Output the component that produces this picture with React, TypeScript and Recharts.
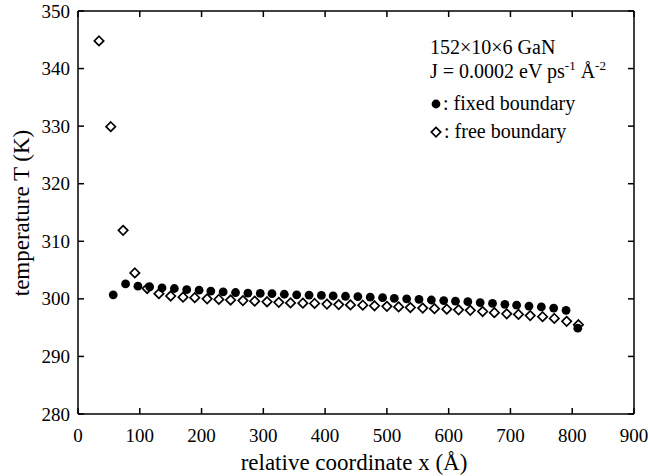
import React from 'react';
import { ScatterChart, Scatter, XAxis, YAxis } from 'recharts';

const xTicks = [0, 100, 200, 300, 400, 500, 600, 700, 800, 900];
const yTicks = [280, 290, 300, 310, 320, 330, 340, 350];

const fixedX = [57, 77, 97, 116, 136, 156, 176, 196, 215, 235, 255, 275, 295, 314, 334, 354, 374, 394, 413, 433, 453, 473, 493, 512, 532, 552, 572, 592, 611, 631, 651, 671, 691, 710, 730, 750, 770, 790, 809];
const fixedY = [300.7, 302.6, 302.2, 302.1, 301.9, 301.8, 301.6, 301.5, 301.35, 301.2, 301.1, 301.0, 300.95, 300.9, 300.8, 300.7, 300.65, 300.6, 300.5, 300.45, 300.4, 300.3, 300.2, 300.1, 300.0, 299.9, 299.8, 299.7, 299.6, 299.5, 299.35, 299.2, 299.05, 298.9, 298.75, 298.6, 298.4, 298.0, 294.9];

const freeX = [34, 53, 73, 92, 112, 131, 150, 170, 189, 209, 228, 247, 267, 286, 306, 325, 344, 364, 383, 403, 422, 441, 461, 480, 500, 519, 538, 558, 577, 597, 616, 635, 655, 674, 694, 713, 732, 752, 771, 791, 810];
const freeY = [344.8, 329.9, 311.9, 304.5, 301.8, 300.9, 300.5, 300.3, 300.2, 300.0, 299.9, 299.8, 299.7, 299.6, 299.5, 299.4, 299.3, 299.25, 299.2, 299.1, 299.0, 298.95, 298.9, 298.8, 298.7, 298.6, 298.5, 298.4, 298.3, 298.2, 298.1, 298.0, 297.8, 297.6, 297.4, 297.3, 297.1, 296.9, 296.6, 296.1, 295.5];

const fixedData = fixedX.map((x, i) => ({ x, y: fixedY[i] }));
const freeData = freeX.map((x, i) => ({ x, y: freeY[i] }));

const FONT = '"Liberation Serif", "DejaVu Serif", serif';
const TL = 6;

const DotShape = (p: any) => <circle cx={p.cx} cy={p.cy} r={4.4} fill="#000" />;
const DiamondShape = (p: any) => {
  const s = 4.7;
  const { cx, cy } = p;
  return (
    <path
      d={`M${cx},${cy - s} L${cx + s},${cy} L${cx},${cy + s} L${cx - s},${cy} Z`}
      fill="#fff"
      stroke="#000"
      strokeWidth={1.7}
    />
  );
};

const BottomTick = (p: any) => (
  <g>
    <line x1={p.x} y1={p.y} x2={p.x} y2={p.y - TL} stroke="#000" strokeWidth={1.5} />
    <text x={p.x} y={p.y + 28} textAnchor="middle" fontSize={19} fontFamily={FONT} fill="#000">
      {p.payload.value}
    </text>
  </g>
);
const TopTick = (p: any) => (
  <g>
    <line x1={p.x} y1={p.y} x2={p.x} y2={p.y + TL} stroke="#000" strokeWidth={1.5} />
  </g>
);
const LeftTick = (p: any) => (
  <g>
    <line x1={p.x} y1={p.y} x2={p.x + TL} y2={p.y} stroke="#000" strokeWidth={1.5} />
    <text x={p.x - 8} y={p.y + 6.5} textAnchor="end" fontSize={19} fontFamily={FONT} fill="#000">
      {p.payload.value}
    </text>
  </g>
);
const RightTick = (p: any) => (
  <g>
    <line x1={p.x} y1={p.y} x2={p.x - TL} y2={p.y} stroke="#000" strokeWidth={1.5} />
  </g>
);

const axisLine = { stroke: '#000', strokeWidth: 1.5 };

export default function App() {
  return (
    <div style={{ position: 'absolute', left: 0, top: 0, width: 648, height: 476 }}>
      <ScatterChart width={648} height={476} margin={{ top: 10, right: 13, bottom: 0, left: 0 }}>
        <XAxis xAxisId={0} type="number" dataKey="x" domain={[0, 900]} ticks={xTicks} allowDataOverflow height={62}
          tickSize={0} tickMargin={0} tickLine={false} axisLine={axisLine} tick={BottomTick} interval={0} />
        <XAxis xAxisId="top" orientation="top" type="number" dataKey="x" domain={[0, 900]} ticks={xTicks} allowDataOverflow height={1}
          tickSize={0} tickMargin={0} tickLine={false} axisLine={axisLine} tick={TopTick} interval={0} />
        <YAxis yAxisId={0} type="number" dataKey="y" domain={[280, 350]} ticks={yTicks} allowDataOverflow width={78}
          tickSize={0} tickMargin={0} tickLine={false} axisLine={axisLine} tick={LeftTick} interval={0} />
        <YAxis yAxisId="right" orientation="right" type="number" dataKey="y" domain={[280, 350]} ticks={yTicks} allowDataOverflow width={1}
          tickSize={0} tickMargin={0} tickLine={false} axisLine={axisLine} tick={RightTick} interval={0} />
        <Scatter name="free boundary" data={freeData} xAxisId={0} yAxisId={0} shape={DiamondShape} isAnimationActive={false} />
        <Scatter name="fixed boundary" data={fixedData} xAxisId={0} yAxisId={0} shape={DotShape} isAnimationActive={false} />
      </ScatterChart>
      <svg width={648} height={476} style={{ position: 'absolute', left: 0, top: 0, pointerEvents: 'none' }}>
        <text x={354} y={470} textAnchor="middle" fontSize={23} fontFamily={FONT} fill="#000">relative coordinate x (Å)</text>
        <text x={29} y={213} textAnchor="middle" fontSize={23} fontFamily={FONT} fill="#000" transform="rotate(-90 29 213)">temperature T (K)</text>
        <text x={430} y={54} fontSize={20} fontFamily={FONT} fill="#000">152×10×6 GaN</text>
        <text x={430} y={78} fontSize={20} fontFamily={FONT} fill="#000">
          J = 0.0002 eV ps<tspan dy={-8} fontSize={13}>-1</tspan>
          <tspan dy={8}> Å</tspan>
          <tspan dy={-8} fontSize={13}>-2</tspan>
        </text>
        <circle cx={436} cy={104} r={4.4} fill="#000" />
        <text x={443} y={110} fontSize={20} fontFamily={FONT} fill="#000">: fixed boundary</text>
        <path d="M436,127.4 L440.7,132.1 L436,136.8 L431.3,132.1 Z" fill="#fff" stroke="#000" strokeWidth={1.7} />
        <text x={444} y={138} fontSize={20} fontFamily={FONT} fill="#000">: free boundary</text>
      </svg>
    </div>
  );
}
